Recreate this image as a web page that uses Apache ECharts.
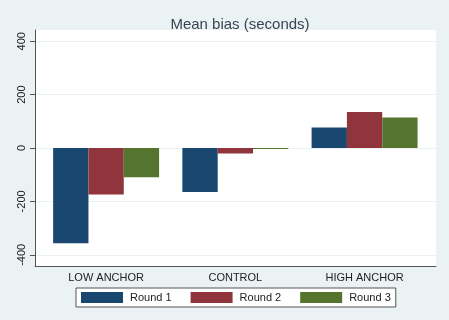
<!DOCTYPE html>
<html>
<head>
<meta charset="utf-8">
<script src="https://cdn.jsdelivr.net/npm/echarts@6/dist/echarts.min.js"></script>
<style>html,body{margin:0;padding:0;background:#eaf2f3;}#c{width:449px;height:320px;}</style>
</head>
<body>
<div id="c"></div>
<script>
var categories = ["LOW ANCHOR", "CONTROL", "HIGH ANCHOR"];
var seriesNames = ["Round 1", "Round 2", "Round 3"];
var round1 = [-357, -165, 77];
var round2 = [-174, -21, 135];
var round3 = [-110, -4, 114];
var yTicks = [-400, -200, 0, 200, 400];
var colors = ["#1a476f", "#90353b", "#55752f"];

var chart = echarts.init(document.getElementById('c'), null, {renderer: 'canvas'});
var font = "Liberation Sans, Arial, sans-serif";
var yMin = -442, yMax = 442;
var option = {
  backgroundColor: '#eaf2f3',
  animation: false,
  title: {
    text: 'Mean bias (seconds)',
    left: 235, top: 12, textAlign: 'center',
    textStyle: {fontFamily: font, fontSize: 15, fontWeight: 'normal', color: '#3a4452'}
  },
  legend: {
    data: seriesNames,
    left: 76, top: 288,
    orient: 'horizontal',
    itemWidth: 42, itemHeight: 11, itemGap: 19,
    padding: [4, 5, 4, 5],
    backgroundColor: '#ffffff',
    borderColor: '#555555', borderWidth: 1, borderRadius: 0,
    icon: 'rect',
    textStyle: {fontFamily: font, fontSize: 11, color: '#222', padding: [0, 0, 0, 2]}
  },
  grid: [
    {left: 35, right: 13, top: 30, bottom: 54, show: true, backgroundColor: '#ffffff', borderWidth: 0, containLabel: false},
    {left: 41.5, right: 19.8, top: 30, bottom: 54, containLabel: false}
  ],
  xAxis: [
    {type: 'category', gridIndex: 0, data: categories, axisLine: {show: true, onZero: false, lineStyle: {color: '#555', width: 1}},
     axisTick: {show: false}, axisLabel: {show: false}, splitLine: {show: false}},
    {type: 'category', gridIndex: 1, data: categories, axisLine: {show: false, onZero: false},
     axisTick: {show: false},
     axisLabel: {show: true, margin: 6, fontFamily: font, fontSize: 11, color: '#222'}}
  ],
  yAxis: [
    {type: 'value', gridIndex: 0, min: yMin, max: yMax,
     axisLine: {show: true, lineStyle: {color: '#555', width: 1}},
     axisTick: {show: true, length: 5, lineStyle: {color: '#555'}, customValues: yTicks},
     axisLabel: {show: true, rotate: 90, margin: 8, fontFamily: font, fontSize: 11, color: '#222', customValues: yTicks},
     splitLine: {show: true, lineStyle: {color: '#eaf2f3', width: 1}}},
    {type: 'value', gridIndex: 1, min: yMin, max: yMax, show: false, splitLine: {show: false}}
  ],
  series: [
    {name: seriesNames[0], type: 'bar', xAxisIndex: 1, yAxisIndex: 1, data: round1, itemStyle: {color: colors[0]}, barGap: '0%', barCategoryGap: '18%'},
    {name: seriesNames[1], type: 'bar', xAxisIndex: 1, yAxisIndex: 1, data: round2, itemStyle: {color: colors[1]}, barGap: '0%', barCategoryGap: '18%'},
    {name: seriesNames[2], type: 'bar', xAxisIndex: 1, yAxisIndex: 1, data: round3, itemStyle: {color: colors[2]}, barGap: '0%', barCategoryGap: '18%'}
  ]
};
chart.setOption(option);
</script>
</body>
</html>
